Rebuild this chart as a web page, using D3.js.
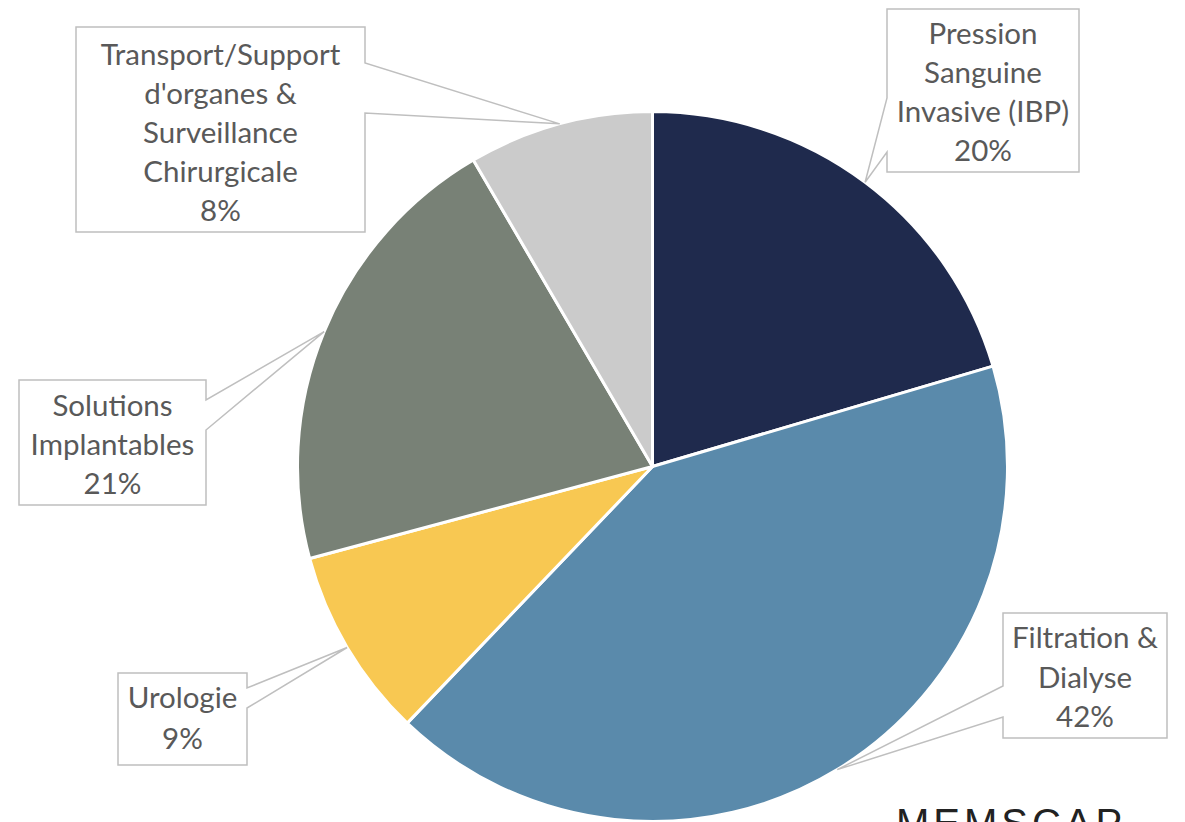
<!DOCTYPE html>
<html><head><meta charset="utf-8">
<script src="https://cdn.jsdelivr.net/npm/d3@7/dist/d3.min.js"></script>
<style>
html,body{margin:0;padding:0;background:#fff;overflow:hidden}
svg{display:block}
</style></head>
<body>
<svg id="chart" width="1185" height="822"></svg>
<script>
// ---- data ----
const categories = ["Pression Sanguine Invasive (IBP)", "Filtration & Dialyse", "Urologie", "Solutions Implantables", "Transport/Support d'organes & Surveillance Chirurgicale"];
const values = [20.44, 41.70, 8.69, 20.75, 8.42];
const labelLines = [
  ["Pression", "Sanguine", "Invasive (IBP)"],
  ["Filtration &", "Dialyse"],
  ["Urologie"],
  ["Solutions", "Implantables"],
  ["Transport/Support", "d'organes &", "Surveillance", "Chirurgicale"]
];
const colors = ["#1f2a4d", "#5a8aab", "#f8c852", "#788176", "#cbcbcb"];

// ---- layout of callout boxes
const boxes = [
  {x0: 887, y0: 9,   x1: 1079, y1: 172, side: "left",  a: 98,  b: 152, ly: 34,  step: 39},
  {x0: 1003, y0: 613, x1: 1167, y1: 738, side: "left", a: 686, b: 717, ly: 638, step: 39.5},
  {x0: 118, y0: 673, x1: 247, y1: 765, side: "right",  a: 688, b: 708, ly: 698, step: 41},
  {x0: 19,  y0: 380, x1: 206, y1: 505, side: "right",  a: 400, b: 430, ly: 406, step: 39},
  {x0: 76,  y0: 27,  x1: 365, y1: 232, side: "right",  a: 63,  b: 113, ly: 55,  step: 39}
];

const cx = 652.5, cy = 466.5, R = 355;
const svg = d3.select("#chart");
const g = svg.append("g").attr("transform", `translate(${cx},${cy})`);

const pie = d3.pie().sort(null).value(d => d).startAngle(0).endAngle(2 * Math.PI);
const arcs = pie(values);
const arc = d3.arc().innerRadius(0).outerRadius(R);

g.selectAll("path.slice").data(arcs).enter().append("path")
  .attr("class", "slice")
  .attr("d", arc)
  .attr("fill", (d, i) => colors[i])
  .attr("stroke", "#fff")
  .attr("stroke-width", 3)
  .attr("stroke-linejoin", "round");

const total = d3.sum(values);
const fmt = v => Math.round(v / total * 100) + "%";

// callouts
arcs.forEach((d, i) => {
  const b = boxes[i];
  const mid = (d.startAngle + d.endAngle) / 2;
  const tx = cx + R * Math.sin(mid), ty = cy - R * Math.cos(mid);
  let pts;
  if (b.side === "left") {
    pts = [[b.x0, b.y0], [b.x1, b.y0], [b.x1, b.y1], [b.x0, b.y1], [b.x0, b.b], [tx, ty], [b.x0, b.a]];
  } else {
    pts = [[b.x0, b.y0], [b.x1, b.y0], [b.x1, b.a], [tx, ty], [b.x1, b.b], [b.x1, b.y1], [b.x0, b.y1]];
  }
  svg.append("path")
    .attr("d", "M" + pts.map(p => p.join(",")).join("L") + "Z")
    .attr("fill", "#fff")
    .attr("stroke", "#bfbfbf")
    .attr("stroke-width", 1.5)
    .attr("stroke-linejoin", "miter");
  const lines = labelLines[i].concat([fmt(values[i])]);
  const t = svg.append("text")
    .attr("font-family", "Lato, 'Open Sans', sans-serif")
    .attr("font-size", 29.5)
    .attr("fill", "#595959")
    .attr("text-anchor", "middle");
  lines.forEach((ln, k) => {
    t.append("tspan")
      .attr("x", (b.x0 + b.x1) / 2)
      .attr("y", b.ly + k * b.step)
      .attr("dy", "0.35em")
      .text(ln);
  });
});

// logo (cut off at bottom, as in the reference)
svg.append("text")
  .attr("x", 1011).attr("y", 837)
  .attr("text-anchor", "middle")
  .attr("font-family", "'Liberation Sans', sans-serif")
  .attr("font-size", 40)
  .attr("letter-spacing", 4)
  .attr("fill", "#222")
  .text("MEMSCAP");
</script>
</body></html>
